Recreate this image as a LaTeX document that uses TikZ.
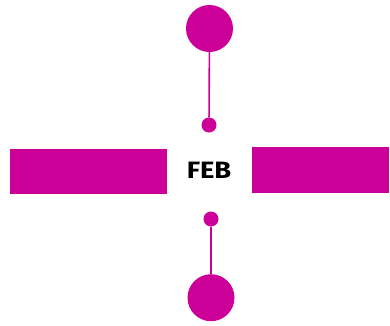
\documentclass[tikz,border=0pt]{standalone}
\usepackage{fontspec}
\usepackage{graphicx}
\setmainfont{Fira Sans}
\definecolor{mag}{HTML}{CC0099}
\tikzset{
  bigdot/.style={circle, fill=mag, inner sep=0pt, minimum size=47pt},
  smalldot/.style={circle, fill=mag, inner sep=0pt, minimum size=15pt},
  bar/.style={fill=mag, inner sep=0pt},
  stem/.style={draw=mag, line width=1.6pt},
  label/.style={text=black, inner sep=0pt}
}
\begin{document}
\begin{tikzpicture}[x=1pt,y=-1pt]
\useasboundingbox (0,0) rectangle (390,325);
\node[bar, minimum width=157pt, minimum height=45pt] (leftbar) at (88.8,171.6) {};
\node[bar, minimum width=136.5pt, minimum height=45.5pt] (rightbar) at (320.5,170) {};
\node[label, anchor=base] (feb) at (209,178.7) {\resizebox{44.5pt}{16.4pt}{\bfseries FEB}};
\node[bigdot] (topbig) at (209.5,28.5) {};
\node[smalldot] (topsmall) at (209,125) {};
\node[smalldot] (botsmall) at (211,219) {};
\node[bigdot] (botbig) at (211,297.7) {};
\draw[stem] (topbig) -- (topsmall);
\draw[stem] (botsmall) -- (botbig);
\end{tikzpicture}
\end{document}
